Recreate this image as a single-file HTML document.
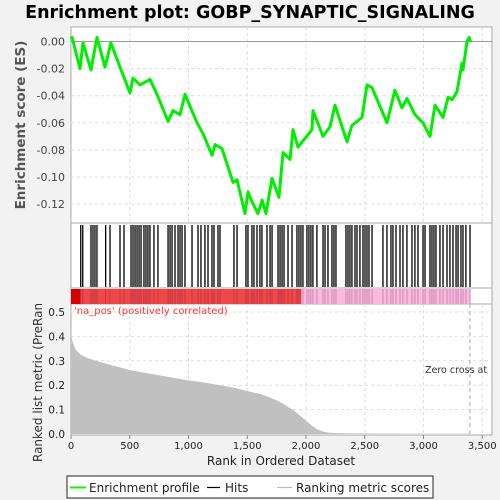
<!DOCTYPE html>
<html><head><meta charset="utf-8"><style>
html,body{margin:0;padding:0;background:#f2f2f2;}
svg{display:block;font-family:"DejaVu Sans","Liberation Sans",sans-serif;}
</style></head><body>
<svg id="chart" width="500" height="500" viewBox="0 0 500 500">
<defs><clipPath id="clipB"><rect x="0" y="304" width="500" height="196"/></clipPath></defs>
<text x="250" y="18" text-anchor="middle" font-size="17.5" font-weight="bold" fill="#000">Enrichment plot: GOBP_SYNAPTIC_SIGNALING</text>
<rect x="71" y="27" width="421" height="196" fill="#fff" stroke="#aaa"/>
<rect x="71" y="223" width="421" height="65" fill="#fff" stroke="#aaa"/>
<rect x="71" y="288" width="421" height="16" fill="#fff" stroke="#aaa"/>
<rect x="71" y="304" width="421" height="131" fill="#fff" stroke="#aaa"/>
<g id="grid"></g>
<g id="marks"></g>
<g id="axes"></g>
<text transform="translate(25,125) rotate(-90)" text-anchor="middle" font-size="13.5" font-weight="bold" fill="#555">Enrichment score (ES)</text>
<g clip-path="url(#clipB)"><text transform="translate(42,462) rotate(-90)" text-anchor="start" font-size="12" fill="#333">Ranked list metric (PreRanked)</text></g>
<text x="74" y="314" font-size="10" fill="#f33">'na_pos' (positively correlated)</text>
<text x="425" y="373" font-size="9.5" fill="#333">Zero cross at</text>
<text x="281" y="465" text-anchor="middle" font-size="12" fill="#222">Rank in Ordered Dataset</text>
<g>
<rect x="67" y="476" width="366" height="22" fill="#fff" stroke="#222"/>
<line x1="70" y1="487.5" x2="86" y2="487.5" stroke="#0f0" stroke-width="2"/>
<text x="89" y="492" font-size="12" fill="#222">Enrichment profile</text>
<line x1="207" y1="487.5" x2="220" y2="487.5" stroke="#000" stroke-width="1.2"/>
<text x="225" y="492" font-size="12" fill="#222">Hits</text>
<line x1="277" y1="487.5" x2="292" y2="487.5" stroke="#bbb" stroke-width="1.2"/>
<text x="296" y="492" font-size="12" fill="#222">Ranking metric scores</text>
</g>
</svg>
<script>
const esRanks=[0,9,77,102,170,221,289,340,417,502,528,587,672,732,826,868,928,970,1072,1123,1200,1226,1285,1379,1413,1481,1506,1540,1591,1626,1660,1711,1770,1804,1864,1889,1932,2051,2060,2145,2204,2247,2349,2391,2477,2519,2562,2689,2757,2817,2860,2928,2996,3055,3098,3166,3209,3243,3285,3328,3336,3370,3390,3400];
const esValues=[0.002,0.003,-0.020,-0.001,-0.021,0.003,-0.019,-0.001,-0.019,-0.038,-0.027,-0.032,-0.028,-0.039,-0.059,-0.051,-0.054,-0.039,-0.060,-0.068,-0.084,-0.076,-0.079,-0.104,-0.102,-0.127,-0.111,-0.118,-0.127,-0.117,-0.127,-0.101,-0.115,-0.082,-0.087,-0.065,-0.078,-0.065,-0.051,-0.070,-0.063,-0.047,-0.074,-0.062,-0.056,-0.032,-0.034,-0.060,-0.036,-0.049,-0.042,-0.054,-0.060,-0.070,-0.047,-0.056,-0.041,-0.043,-0.037,-0.016,-0.021,0.000,0.003,0.000];
const hitRanks=[83,100,170,187,204,221,295,332,417,451,511,528,545,562,579,596,621,638,655,672,706,740,826,843,860,885,911,928,945,970,1030,1081,1106,1140,1166,1200,1217,1251,1268,1387,1413,1489,1506,1540,1557,1583,1608,1625,1668,1694,1711,1762,1779,1796,1813,1847,1881,1923,1940,1957,1974,2008,2025,2042,2059,2093,2145,2162,2187,2221,2238,2255,2340,2357,2374,2391,2417,2434,2459,2485,2502,2519,2536,2562,2655,2689,2723,2740,2766,2800,2825,2859,2902,2927,2953,2996,3013,3055,3072,3089,3106,3140,3166,3200,3225,3251,3277,3294,3319,3336,3361,3396];
const metricRanks=[0,10,20,35,50,75,100,150,200,300,400,500,700,850,1000,1150,1300,1400,1500,1600,1650,1700,1750,1800,1850,1900,1950,2000,2050,2100,2150,2200,2300,2500,3000,3400];
const metricValues=[0.41,0.385,0.37,0.35,0.34,0.328,0.32,0.31,0.302,0.288,0.275,0.262,0.245,0.232,0.22,0.21,0.197,0.188,0.176,0.165,0.158,0.148,0.138,0.126,0.11,0.095,0.075,0.055,0.035,0.018,0.009,0.005,0.003,0.002,0.001,0.001];
const esTicks=[0,-0.02,-0.04,-0.06,-0.08,-0.10,-0.12];
const esTickLabels=["0.00","-0.02","-0.04","-0.06","-0.08","-0.10","-0.12"];
const metricTicks=[0,0.1,0.2,0.3,0.4,0.5];
const metricTickLabels=["0.0","0.1","0.2","0.3","0.4","0.5"];
const xTicks=[0,500,1000,1500,2000,2500,3000,3500];
const xTickLabels=["0","500","1,000","1,500","2,000","2,500","3,000","3,500"];
const zeroCross=3395;
const posEnd=1960;

const NS="http://www.w3.org/2000/svg";
const X=r=>71+r*0.1175;
const YE=v=>41.5-v*1355;
const YM=v=>434-v*244;
function mk(t,a,p){const e=document.createElementNS(NS,t);for(const k in a)e.setAttribute(k,a[k]);p.appendChild(e);return e;}
const grid=document.getElementById('grid'),marks=document.getElementById('marks'),axes=document.getElementById('axes');

xTicks.forEach((t,i)=>{
  if(t>0){
  let g1=mk('line',{x1:X(t),x2:X(t),y1:27,y2:223,stroke:'#ddd','stroke-dasharray':'3,3'},grid);
  
  
  let g2=mk('line',{x1:X(t),x2:X(t),y1:304,y2:435,stroke:'#ddd','stroke-dasharray':'3,3'},grid);
  
  }
  let tk=mk('line',{x1:X(t),x2:X(t),y1:435,y2:439,stroke:'#888'},axes);
  
  
  let tl=mk('text',{x:X(t),y:449,'text-anchor':'middle','font-size':10,fill:'#222'},axes);
  tl.textContent=xTickLabels[i];
  
  
});
esTicks.forEach((t,i)=>{
  let g=mk('line',{x1:71,x2:492,y1:YE(t),y2:YE(t),stroke:t===0?'#999':'#ddd','stroke-dasharray':t===0?'none':'3,3'},grid);
  
  
  let tl=mk('text',{x:65,y:YE(t)+4,'text-anchor':'end','font-size':11,fill:'#444'},axes);
  tl.textContent=esTickLabels[i];
  
  
});
metricTicks.forEach((t,i)=>{
  if(t>0){let g=mk('line',{x1:71,x2:492,y1:YM(t),y2:YM(t),stroke:'#ddd','stroke-dasharray':'3,3'},grid);
  
  }
  let tl=mk('text',{x:65,y:YM(t)+4,'text-anchor':'end','font-size':10.5,fill:'#222'},axes);
  tl.textContent=metricTickLabels[i];
  
  
});
let c1=mk('rect',{x:X(0),y:289,width:X(80)-X(0),height:15,fill:'#d40000'},marks);


let c2=mk('rect',{x:X(80),y:289,width:X(posEnd)-X(80),height:15,fill:'#f04848'},marks);


let c3=mk('rect',{x:X(posEnd),y:289,width:X(3400)-X(posEnd),height:15,fill:'#fbb8e0'},marks);


hitRanks.forEach(r=>{
  let h=mk('line',{x1:X(r),x2:X(r),y1:225,y2:287,stroke:'#000','stroke-width':1.3},marks);
  
  
  let hc=mk('line',{x1:X(r),x2:X(r),y1:289,y2:304,stroke:'rgba(60,0,40,0.25)','stroke-width':1},marks);
  
  
});
let d='M'+X(0)+','+YM(0);
metricRanks.forEach((r,i)=>{d+=' L'+X(r)+','+YM(metricValues[i]);});
d+=' L'+X(metricRanks[metricRanks.length-1])+','+YM(0)+' Z';
let area=mk('path',{d:d,fill:'#c0c0c0',stroke:'none'},marks);


let zc=mk('line',{x1:X(zeroCross),x2:X(zeroCross),y1:304,y2:435,stroke:'#aaa','stroke-dasharray':'4,3'},marks);


let pd='';
esRanks.forEach((r,i)=>{pd+=(i?' L':'M')+X(r).toFixed(1)+','+YE(esValues[i]).toFixed(1);});
let es=mk('path',{d:pd,fill:'none',stroke:'#00ee00','stroke-width':3,'stroke-linejoin':'round'},marks);


</script>
</body></html>
